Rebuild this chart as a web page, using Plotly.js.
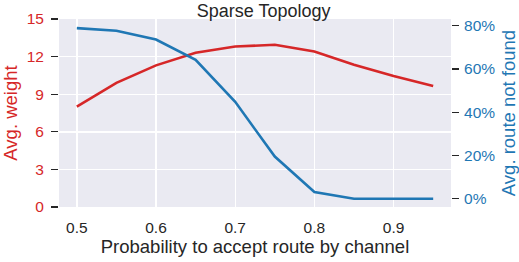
<!DOCTYPE html>
<html>
<head>
<meta charset="utf-8">
<script src="https://cdn.plot.ly/plotly-3.0.1.min.js"></script>
<style>html,body{margin:0;padding:0;background:#fff;}#chart{width:519px;height:262px;}</style>
</head>
<body>
<div id="chart"></div>
<script>
const probability = [0.5, 0.55, 0.6, 0.65, 0.7, 0.75, 0.8, 0.85, 0.9, 0.95];
const avgWeight = [8.0, 9.9, 11.3, 12.3, 12.8, 12.95, 12.4, 11.35, 10.45, 9.65];
const routeNotFound = [78.9, 77.7, 73.6, 64.2, 44.8, 19.5, 3.1, 0, 0, 0];
const leftTicks = [0, 3, 6, 9, 12, 15];
const rightTicks = [0, 20, 40, 60, 80];
const rightTickText = ['0%', '20%', '40%', '60%', '80%'];
const xTicks = [0.5, 0.6, 0.7, 0.8, 0.9];
const xTickText = ['0.5', '0.6', '0.7', '0.8', '0.9'];

const RED = '#d62728', BLUE = '#1f77b4', DARK = '#262626';
const FONT = 'Liberation Sans, Arial, sans-serif';

const traces = [
  {x: probability, y: avgWeight, type: 'scatter', mode: 'lines', name: 'Avg. weight',
   line: {color: RED, width: 2.6}, yaxis: 'y'},
  {x: probability, y: routeNotFound, type: 'scatter', mode: 'lines', name: 'Avg. route not found',
   line: {color: BLUE, width: 2.6}, yaxis: 'y2'}
];

const layout = {
  width: 519, height: 262,
  margin: {l: 59, r: 68, t: 19, b: 55},
  paper_bgcolor: '#ffffff',
  plot_bgcolor: '#EAEAF2',
  showlegend: false,
  font: {family: FONT, color: DARK},
  title: {text: 'Sparse Topology', font: {size: 18, color: DARK, family: FONT},
          x: 0.508, xanchor: 'center', y: 0.985, yanchor: 'top'},
  xaxis: {
    range: [0.4775, 0.9725], tickvals: xTicks, ticktext: xTickText,
    showgrid: true, gridcolor: '#ffffff', gridwidth: 1.4, zeroline: false, showline: false,
    ticks: 'outside', ticklen: 6, tickcolor: 'rgba(0,0,0,0)', ticklabelstandoff: 0,
    tickfont: {size: 15.5, color: DARK},
    title: {text: 'Probability to accept route by channel', font: {size: 18.5, color: DARK}, standoff: 3}
  },
  yaxis: {
    range: [0, 15], tickvals: leftTicks, showgrid: true, gridcolor: '#ffffff', gridwidth: 1.4,
    zeroline: false, showline: false, ticks: 'outside', ticklen: 7, tickwidth: 1.2, tickcolor: DARK,
    ticklabelstandoff: 4,
    tickfont: {size: 15.5, color: RED},
    title: {text: 'Avg. weight', font: {size: 18.5, color: RED}, standoff: 5}
  },
  yaxis2: {
    overlaying: 'y', side: 'right', range: [-3.8, 83.1], tickvals: rightTicks, ticktext: rightTickText,
    showgrid: false, zeroline: false, showline: false, ticks: 'outside', ticklen: 7, tickwidth: 1.2, tickcolor: DARK,
    ticklabelstandoff: 2,
    tickfont: {size: 15.5, color: BLUE},
    title: {text: 'Avg. route not found', font: {size: 18.5, color: BLUE}, standoff: 7}
  }
};

Plotly.newPlot('chart', traces, layout, {displayModeBar: false, staticPlot: true});
</script>
</body>
</html>
